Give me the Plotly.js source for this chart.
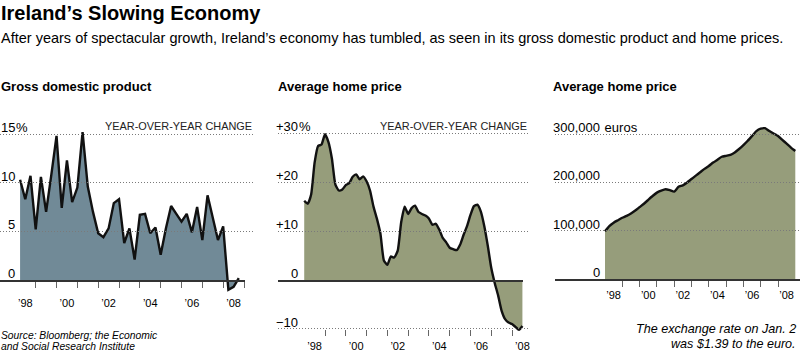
<!DOCTYPE html>
<html><head><meta charset="utf-8">
<script src="https://cdn.plot.ly/plotly-3.0.1.min.js"></script>
<style>html,body{margin:0;padding:0;background:#fff}#chart{width:800px;height:354px}</style>
</head><body><div id="chart"></div>
<script>
// ---------- DATA ----------
// GDP, year-over-year change (%), quarterly from Q1 1998 to Q3 2008
const gdpFirstQuarterEnd = 1998.25;
const gdpGrowth = [10.3, 8.3, 10.7, 5.2, 10.6, 7.0, 10.8, 14.8, 7.4, 12.3, 8.0, 9.5, 15.2, 9.6, 7.0, 4.8,
  4.4, 5.3, 7.9, 8.3, 3.8, 5.3, 2.1, 6.7, 6.8, 4.8, 5.4, 2.6, 5.3, 7.6, 6.8, 6.0,
  6.8, 4.9, 7.5, 4.1, 8.7, 6.5, 4.1, 5.5, -1.0, -0.7, 0.2];
// Average home price, year-over-year change (%), every two months from Jan 1998
const priceChangeStart = 1998.0;
const homePriceChange = [16.2, 15.6, 17.5, 24.0, 27.4, 27.7, 29.8, 28.2, 24.8, 19.5, 18.3, 18.5,
  19.4, 19.8, 21.1, 21.6, 20.6, 21.2, 20.2, 18.3, 15.0, 12.5, 9.5, 4.0,
  3.1, 4.8, 4.6, 6.0, 11.8, 15.0, 13.5, 14.7, 15.2, 13.9, 13.5, 13.2,
  12.6, 11.3, 11.5, 10.3, 8.6, 7.7, 6.6, 6.3, 6.1, 7.2, 9.2, 11.0,
  13.3, 15.1, 15.4, 14.0, 11.0, 7.0, 2.5, -0.6, -3.2, -6.3, -8.0, -8.7,
  -9.0, -9.6, -10.2, -9.4];
// Average home price (thousand euros), quarterly from Jan 1998 to end of 2008
const priceStart = 1998.0;
const homePriceK = [99, 110, 117, 122, 127, 131, 136, 142, 149, 156, 164, 172, 179, 183, 186, 184,
  181, 191, 194, 200, 207, 214, 221, 228, 234, 241, 247, 253, 255, 257, 262, 269,
  277, 286, 296, 306, 311, 312, 306, 301, 296, 288, 280, 272, 265];
// Axis ticks / labels
const yearTickYears = [1999, 2000, 2001, 2002, 2003, 2004, 2005, 2006, 2007, 2008, 2009];
const yearLabelYears = [1998, 2000, 2002, 2004, 2006, 2008];
const yearLabels = ["’98", "’00", "’02", "’04", "’06", "’08"];
const gdpTicks = [0, 5, 10, 15];
const gdpTickText = ["0", "5", "10", "15"];
const changeTicks = [-10, 0, 10, 20, 30];
const changeTickText = ["−10", "0", "+10", "+20", "+30"];
const priceTicks = [0, 100, 200, 300];
const priceTickText = ["0", "100,000", "200,000", "300,000"];

// ---------- GEOMETRY ----------
const W = 800, H = 354;
const FONT = "Liberation Sans, Arial, Helvetica, sans-serif";
const p1x = {px0: 35.7, year0: 1999, ppy: 20.83};
const p2x = {px0: 325, year0: 1999, ppy: 20.78};
const p3x = {px0: 622.3, year0: 1999, ppy: 17.3};
const p1y = {py0: 280, ppu: 9.733};
const p2y = {py0: 280, ppu: 4.89};
const p3y = {py0: 279.3, ppu: 0.4843};
function xr(m, a, b) { return {domain: [a / W, b / W], range: [m.year0 + (a - m.px0) / m.ppy, m.year0 + (b - m.px0) / m.ppy]}; }
function yr(m, top, bot) { return {domain: [1 - bot / H, 1 - top / H], range: [(m.py0 - bot) / m.ppu, (m.py0 - top) / m.ppu]}; }
function ypos(m, v) { return 1 - (m.py0 - v * m.ppu) / H; }

const gdpX = gdpGrowth.map((_, i) => gdpFirstQuarterEnd + i * 0.25);
const chgX = homePriceChange.map((_, i) => priceChangeStart + i / 6);
const prX = homePriceK.map((_, i) => priceStart + i * 0.25);

const FILL1 = "#718a97", FILL2 = "#969d7b";
const lineStyle = {color: "#111", width: 2.4};
const traces = [
  {x: gdpX, y: gdpGrowth, xaxis: "x", yaxis: "y", type: "scatter", mode: "lines", fill: "tozeroy", fillcolor: FILL1, line: lineStyle, hoverinfo: "skip"},
  {x: chgX, y: homePriceChange, xaxis: "x2", yaxis: "y2", type: "scatter", mode: "lines", fill: "tozeroy", fillcolor: FILL2, line: Object.assign({shape: "spline", smoothing: 0.5}, lineStyle), hoverinfo: "skip"},
  {x: prX, y: homePriceK, xaxis: "x3", yaxis: "y3", type: "scatter", mode: "lines", fill: "tozeroy", fillcolor: FILL2, line: Object.assign({shape: "spline", smoothing: 0.5}, lineStyle), hoverinfo: "skip"},
  {x: [], y: [], xaxis: "x4", yaxis: "y", type: "scatter", hoverinfo: "skip"},
  {x: [], y: [], xaxis: "x5", yaxis: "y2", type: "scatter", hoverinfo: "skip"},
  {x: [], y: [], xaxis: "x6", yaxis: "y2", type: "scatter", hoverinfo: "skip"},
  {x: [], y: [], xaxis: "x7", yaxis: "y3", type: "scatter", hoverinfo: "skip"}
];

const gridY = {showgrid: true, griddash: "1px,2px", gridcolor: "#7a7a7a", gridwidth: 1, zeroline: false, showline: false, ticks: "", showticklabels: false, tickmode: "array", fixedrange: true};
const hiddenX = {visible: false, fixedrange: true};
function tickAxis(m, a, b, pos, opts) {
  return Object.assign(xr(m, a, b), {
    anchor: "free", position: pos, showgrid: false, zeroline: false,
    tickmode: "array", tickvals: yearLabelYears.map(y => y + 0.5), ticktext: yearLabels, ticks: "",
    tickfont: {family: FONT, size: 11, color: "#000"},
    minor: {tickmode: "array", tickvals: opts.tickYears, ticks: "outside", ticklen: 6, tickwidth: 1, tickcolor: "#666", showgrid: false},
    showline: opts.line, linecolor: "#333", linewidth: 1.5,
    ticklabelstandoff: opts.standoff, fixedrange: true
  });
}

const layout = {
  width: W, height: H, margin: {l: 0, r: 0, t: 0, b: 0}, showlegend: false,
  paper_bgcolor: "#fff", plot_bgcolor: "rgba(0,0,0,0)",
  font: {family: FONT, color: "#000"},
  xaxis: Object.assign(xr(p1x, 0, 253), hiddenX, {anchor: "y"}),
  yaxis: Object.assign(yr(p1y, 120, 300), gridY, {anchor: "x", tickvals: [5, 10, 15]}),
  xaxis2: Object.assign(xr(p2x, 278, 530), hiddenX, {anchor: "y2"}),
  yaxis2: Object.assign(yr(p2y, 120, 336), gridY, {anchor: "x2", tickvals: [-10, 10, 20, 30]}),
  xaxis3: Object.assign(xr(p3x, 555, 800), hiddenX, {anchor: "y3"}),
  yaxis3: Object.assign(yr(p3y, 120, 300), gridY, {anchor: "x3", tickvals: [100, 200, 300]}),
  xaxis4: tickAxis(p1x, 0, 245, ypos(p1y, 0), {tickYears: yearTickYears, line: true, standoff: 12}),
  xaxis5: tickAxis(p2x, 278, 530, ypos(p2y, -10), {tickYears: yearTickYears.slice(0, 10), line: false, standoff: 9}),
  xaxis6: Object.assign(xr(p2x, 278, 523.3), {anchor: "free", position: ypos(p2y, 0), showline: true, linecolor: "#333", linewidth: 1.5, ticks: "", showticklabels: false, showgrid: false, zeroline: false, fixedrange: true}),
  xaxis7: tickAxis(p3x, 555, 800, ypos(p3y, 0), {tickYears: yearTickYears.slice(0, 10), line: true, standoff: 5}),
  annotations: []
};

const ann = layout.annotations;
function txt(text, px, py, xanchor, size, extra) {
  ann.push(Object.assign({text: text, xref: "paper", yref: "paper", x: px / W, y: 1 - py / H, xanchor: xanchor, yanchor: "middle", showarrow: false, borderwidth: 0, font: {family: FONT, size: size, color: "#000"}}, extra || {}));
}
// y tick labels (number right-aligned, suffix hanging)
function yLabels(yref, ticks, texts, rightPx, suffix) {
  ticks.forEach((v, i) => {
    ann.push({text: texts[i], xref: "paper", yref: yref, x: rightPx / W, y: v, xanchor: "right", yanchor: "bottom", showarrow: false, font: {family: FONT, size: 13, color: "#000"}, borderpad: 0, borderwidth: 0, yshift: -1});
    if (i === ticks.length - 1) {
      ann.push({text: suffix, xref: "paper", yref: yref, x: rightPx / W, y: v, xanchor: "left", yanchor: "bottom", showarrow: false, font: {family: FONT, size: 13, color: "#000"}, borderpad: 0, borderwidth: 0, yshift: -1, xshift: 0.5});
    }
  });
}
yLabels("y", gdpTicks, gdpTickText, 15, "%");
yLabels("y2", changeTicks, changeTickText, 298, "%");
yLabels("y3", priceTicks, priceTickText, 600, "&nbsp;euros");

txt("<b>Ireland’s Slowing Economy</b>", 0, 13, "left", 20);
txt("After years of spectacular growth, Ireland’s economy has tumbled, as seen in its gross domestic product and home prices.", 0, 38, "left", 14.5);
txt("<b>Gross domestic product</b>", 0, 86, "left", 13);
txt("<b>Average home price</b>", 277, 86, "left", 13);
txt("<b>Average home price</b>", 552, 86, "left", 13);
txt("YEAR-OVER-YEAR CHANGE", 253, 126, "right", 10.9, {font: {family: FONT, size: 10.9, color: "#222"}});
txt("YEAR-OVER-YEAR CHANGE", 528, 126, "right", 10.9, {font: {family: FONT, size: 10.9, color: "#222"}});
txt("<i>Source: Bloomberg; the Economic</i>", 0, 335, "left", 10.3);
txt("<i>and Social Research Institute</i>", 0, 346, "left", 10.3);
txt("<i>The exchange rate on Jan. 2</i>", 797, 329, "right", 12.6);
txt("<i>was $1.39 to the euro.</i>", 797, 344, "right", 12.6);

Plotly.newPlot("chart", traces, layout, {staticPlot: true, displayModeBar: false});
</script>
</body></html>
